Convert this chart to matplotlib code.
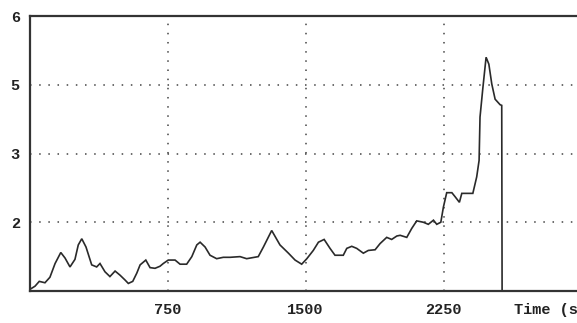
import matplotlib
matplotlib.use("Agg")
import matplotlib.pyplot as plt

# time in seconds
time_s = [6, 30, 53, 84, 111, 139, 170, 193, 220, 247, 265, 284, 307, 338, 365, 383,
          410, 437, 465, 492, 519, 537, 561, 583, 601, 632, 655, 682, 709, 727, 754,
          791, 818, 854, 882, 909, 927, 954, 981, 1017, 1053, 1090, 1144, 1180, 1243,
          1271, 1316, 1361, 1407, 1443, 1479, 1507, 1542, 1570, 1601, 1633, 1660, 1705,
          1724, 1751, 1778, 1814, 1841, 1878, 1905, 1941, 1968, 1996, 2014, 2050, 2077,
          2104, 2140, 2167, 2195, 2213, 2235, 2249, 2267, 2295, 2313, 2336, 2349, 2376,
          2409, 2430, 2443, 2448, 2463, 2481, 2496, 2512, 2530, 2557, 2566, 2568]
# signal in axis grid units (tick positions 1..4 are labelled 2, 3, 5, 6)
signal = [0.03, 0.07, 0.14, 0.12, 0.20, 0.40, 0.56, 0.48, 0.35, 0.46, 0.67, 0.76, 0.64,
          0.38, 0.35, 0.40, 0.28, 0.21, 0.29, 0.23, 0.16, 0.11, 0.14, 0.26, 0.38, 0.45,
          0.34, 0.33, 0.36, 0.40, 0.45, 0.45, 0.39, 0.39, 0.50, 0.67, 0.71, 0.64, 0.52,
          0.47, 0.49, 0.49, 0.50, 0.47, 0.50, 0.64, 0.88, 0.67, 0.55, 0.45, 0.39, 0.47,
          0.59, 0.71, 0.75, 0.62, 0.52, 0.52, 0.62, 0.65, 0.62, 0.55, 0.59, 0.60, 0.69,
          0.78, 0.75, 0.80, 0.81, 0.78, 0.91, 1.02, 1.00, 0.97, 1.03, 0.97, 1.00, 1.22,
          1.43, 1.43, 1.37, 1.29, 1.42, 1.42, 1.42, 1.66, 1.90, 2.53, 2.94, 3.40, 3.30,
          3.01, 2.79, 2.71, 2.70, 0.0]

x_ticks = [750, 1500, 2250]
x_tick_labels = ["750", "1500", "2250"]
y_ticks = [1, 2, 3, 4]
y_tick_labels = ["2", "3", "5", "6"]
x_label = "Time (s)"

W, H = 577, 323
fig = plt.figure(figsize=(W / 100, H / 100), dpi=100)
ax = fig.add_axes([29.5 / W, (H - 291) / H, 1 - 29.5 / W, (291 - 16) / H])

ax.plot(time_s, signal, color="#2a2a2a", lw=1.2, solid_joinstyle="miter")
ax.set_xlim(0, 2975)
ax.set_ylim(0, 4)

font = dict(family="Liberation Mono", weight="bold", size=11)
ax.set_xticks(x_ticks)
ax.set_xticklabels(x_tick_labels, **font)
ax.set_yticks(y_ticks)
ax.set_yticklabels(y_tick_labels, **font)
ax.tick_params(length=0)
ax.tick_params(axis="x", pad=9, colors="#222222")
ax.tick_params(axis="y", pad=7, colors="#222222")

ax.grid(True, color="#444444", linestyle=(0, (1, 5)), linewidth=1.1)
ax.set_axisbelow(True)

for s in ["left", "top", "bottom"]:
    ax.spines[s].set_linewidth(1.6)
    ax.spines[s].set_color("#333333")
ax.spines["right"].set_visible(False)

fig.text(514 / W, 1 - 310 / H, x_label, ha="left", va="center", color="#222222", **font)

fig.savefig("out.png", dpi=100)
